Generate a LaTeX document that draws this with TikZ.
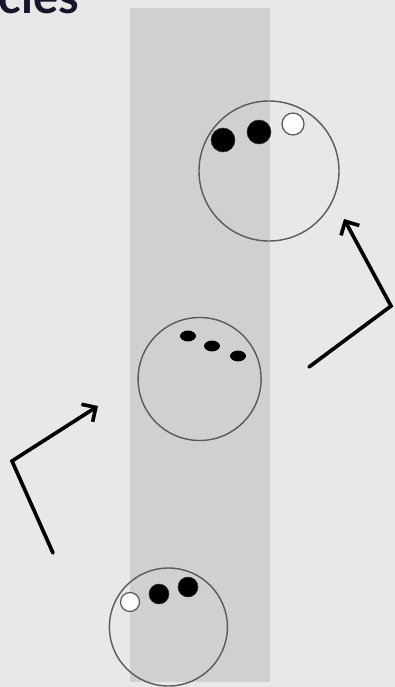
\documentclass[tikz,border=0pt]{standalone}
\usepackage{fontspec}
\setsansfont{Lato}
\usetikzlibrary{arrows.meta,shapes.geometric}
\definecolor{bggray}{HTML}{E8E8E8}
\definecolor{bandgray}{HTML}{D0D0D0}
\definecolor{rimgray}{HTML}{5A5A5A}
\definecolor{titleink}{HTML}{16162A}

\begin{document}
\begin{tikzpicture}[x=1cm,y=1cm]
\tikzset{
  ball/.style={circle,draw=rimgray,line width=1pt,inner sep=0pt},
  fingerhole/.style={circle,fill=black,draw=black!80,line width=0.4pt,inner sep=0pt},
  openhole/.style={circle,draw=rimgray,fill=white!92!bggray,line width=0.9pt,inner sep=0pt},
  slothole/.style={ellipse,fill=black,inner sep=0pt,minimum width=4mm,minimum height=2.7mm},
  motion/.style={draw=black,line width=2.6pt,line cap=round,line join=miter},
  motionarrow/.style={motion,-{Straight Barb[length=2.6mm,width=5.2mm,line width=2.6pt]}}
}
\useasboundingbox (0,0) rectangle (9.875,-17.175);
\clip (0,0) rectangle (9.875,-17.175);
\fill[bggray] (0,0) rectangle (9.875,-17.175);
\node[font=\sffamily\bfseries,text=titleink,scale=3.35,anchor=base west,inner sep=0pt] (n_title) at (-0.05,-0.33) {cies};
\fill[bandgray] (3.25,-0.20) rectangle (6.75,-17.05);
% top ball
\node[ball,minimum size=3.5cm] (n_ball_top) at (6.725,-4.275) {};
\node[fingerhole,minimum size=6mm] (n_top_h1) at (5.575,-3.50) {};
\node[fingerhole,minimum size=6mm] (n_top_h2) at (6.475,-3.30) {};
\node[openhole,minimum size=5.5mm] (n_top_h3) at (7.325,-3.10) {};
% middle ball
\node[ball,minimum size=3.075cm] (n_ball_mid) at (4.99,-9.475) {};
\node[slothole] (n_mid_h1) at (4.70,-8.40) {};
\node[slothole] (n_mid_h2) at (5.30,-8.65) {};
\node[slothole] (n_mid_h3) at (5.95,-8.90) {};
% bottom ball
\node[ball,minimum size=2.95cm] (n_ball_bot) at (4.21,-15.675) {};
\node[openhole,minimum size=4.75mm] (n_bot_h1) at (3.25,-15.05) {};
\node[fingerhole,minimum size=5mm] (n_bot_h2) at (3.975,-14.85) {};
\node[fingerhole,minimum size=5mm] (n_bot_h3) at (4.70,-14.675) {};
% arrows
\coordinate (c_left_start) at (1.325,-13.825);
\coordinate (c_left_bend) at (0.30,-11.525);
\coordinate (c_left_tip) at (2.45,-10.15);
\coordinate (c_right_start) at (7.725,-9.175);
\coordinate (c_right_bend) at (9.775,-7.65);
\coordinate (c_right_tip) at (8.60,-5.475);
\draw[motionarrow] (c_left_start) -- (c_left_bend) -- (c_left_tip);
\draw[motionarrow] (c_right_start) -- (c_right_bend) -- (c_right_tip);
\end{tikzpicture}
\end{document}
